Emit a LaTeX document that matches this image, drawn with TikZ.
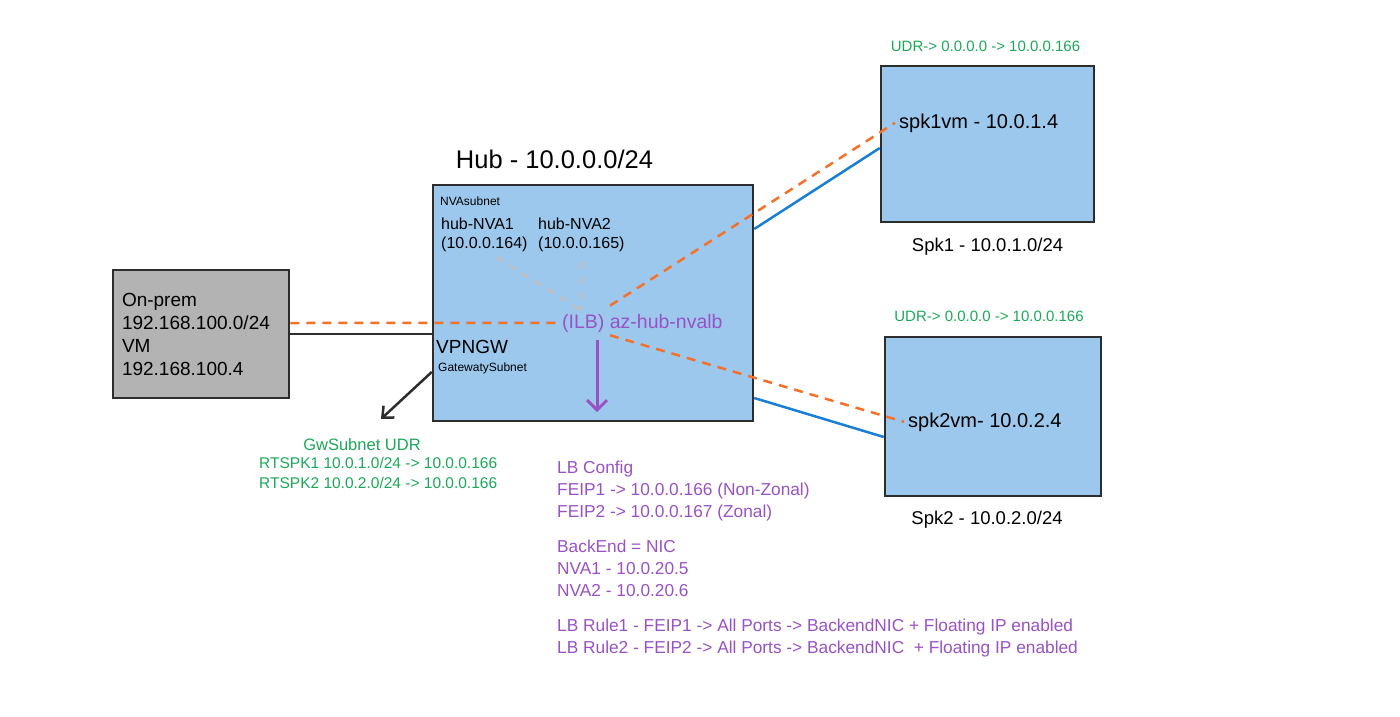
\documentclass[tikz,border=0pt]{standalone}
\usepackage{fontspec}
\setmainfont{Liberation Sans}
\usetikzlibrary{positioning,arrows.meta}

\definecolor{hubblue}{RGB}{157,200,238}
\definecolor{premgray}{RGB}{179,179,179}
\definecolor{edgegray}{RGB}{45,45,45}
\definecolor{floworange}{RGB}{245,112,40}
\definecolor{linkblue}{RGB}{24,126,214}
\definecolor{udrgreen}{RGB}{28,168,88}
\definecolor{lbpurple}{RGB}{152,82,196}
\definecolor{nvagray}{RGB}{192,192,192}

\newcommand{\fsz}[2]{\fontsize{#1}{#2}\selectfont}

\begin{document}
\begin{tikzpicture}[x=1pt,y=-1pt,
    net/.style={draw=edgegray,line width=2.5pt,fill=hubblue,inner sep=0pt},
    lbl/.style={inner sep=0pt,anchor=base west},
    flow/.style={draw=floworange,line width=2.5pt,dash pattern=on 9pt off 7pt},
    probe/.style={draw=nvagray,line width=2.5pt,dash pattern=on 8pt off 7pt},
    link/.style={draw=linkblue,line width=2.5pt},
    wire/.style={draw=edgegray,line width=2.5pt}]

    \useasboundingbox (0,0) rectangle (1400,717);

    % boxes
    \node[net,minimum width=320pt,minimum height=236pt] (hub) at (593,303) {};
    \node[net,fill=premgray,minimum width=176pt,minimum height=128pt,text width=158pt,align=left,inner xsep=9pt,font=\fsz{19}{23}] (onprem) at (201,334) {On-prem\\192.168.100.0/24\\VM\\192.168.100.4};
    \node[net,minimum width=213pt,minimum height=156pt] (spk1) at (987.5,144) {};
    \node[net,minimum width=216pt,minimum height=159pt] (spk2) at (993,416.5) {};

    \node[above right=15pt and 24pt of hub.north west,inner sep=0pt,font=\fsz{25.5}{30}] (hubtitle) {Hub - 10.0.0.0/24};

    % inside the hub
    \node[lbl,font=\fsz{12}{14}] (nvasub) at (440,205) {NVAsubnet};
    \node[inner sep=0pt,anchor=north west,align=left,font=\fsz{16}{19}] (nva1) at (441,218) {hub-NVA1\\(10.0.0.164)};
    \node[inner sep=0pt,anchor=north west,align=left,font=\fsz{16}{19}] (nva2) at (538,218) {hub-NVA2\\(10.0.0.165)};
    \node[lbl,inner sep=3pt,text=lbpurple,font=\fsz{19.5}{23}] (ilb) at (559,328) {(ILB) az-hub-nvalb};
    \node[lbl,font=\fsz{19}{23}] (vpngw) at (436,353) {VPNGW};
    \node[lbl,font=\fsz{12}{14}] (gwsub) at (438,371) {GatewatySubnet};

    % spokes
    \node[lbl,inner sep=4pt,font=\fsz{20}{24}] (spk1vm) at (895,128) {spk1vm - 10.0.1.4};
    \node[lbl,inner sep=4pt,font=\fsz{20}{24}] (spk2vm) at (904,427) {spk2vm- 10.0.2.4};
    \node[below=15pt of spk1,inner sep=0pt,font=\fsz{18.5}{22}] (spk1net) {Spk1 - 10.0.1.0/24};
    \node[below=14pt of spk2,xshift=-6pt,inner sep=0pt,font=\fsz{18.5}{22}] (spk2net) {Spk2 - 10.0.2.0/24};
    \node[above=13pt of spk1,xshift=-2pt,inner sep=0pt,text=udrgreen,font=\fsz{15}{17}] (spk1udr) {UDR-> 0.0.0.0 -> 10.0.0.166};
    \node[above=14pt of spk2,xshift=-4pt,inner sep=0pt,text=udrgreen,font=\fsz{15}{17}] (spk2udr) {UDR-> 0.0.0.0 -> 10.0.0.166};

    % gateway subnet routes
    \node[lbl,anchor=base,text=udrgreen,font=\fsz{16.5}{19}] (gwudr) at (362,450) {GwSubnet UDR};
    \node[inner sep=0pt,anchor=north west,align=left,text=udrgreen,font=\fsz{15.5}{20}] (rtspk) at (259,457) {RTSPK1 10.0.1.0/24 -> 10.0.0.166\\RTSPK2 10.0.2.0/24 -> 10.0.0.166};
    \coordinate (gwtip) at (381,419);

    % load balancer config
    \node[inner sep=0pt,anchor=north west,align=left,text=lbpurple,font=\fsz{17.3}{22}] (lbcfg) at (557,461) {LB Config\\FEIP1 -> 10.0.0.166 (Non-Zonal)\\FEIP2 -> 10.0.0.167 (Zonal)\\[13pt]BackEnd = NIC\\NVA1 - 10.0.20.5\\NVA2 - 10.0.20.6\\[13pt]LB Rule1 - FEIP1 -> All Ports -> BackendNIC + Floating IP enabled\\LB Rule2 - FEIP2 -> All Ports -> BackendNIC\ \ + Floating IP enabled};

    % connectors
    \draw[wire] (onprem.east) -- (onprem.east -| hub.west);
    \draw[wire,-{Straight Barb[length=9pt,width=16pt]}] ([yshift=-69pt]hub.west) -- (gwtip);
    \draw[link] ([yshift=74pt]hub.east) -- ([yshift=-4pt]spk1.west);
    \draw[link] ([yshift=-95pt]hub.east) -- ([yshift=-20.5pt]spk2.west);
    \draw[probe] ([xshift=12pt,yshift=-5pt]nva1.south) -- ([xshift=23pt]ilb.north west);
    \draw[probe] ([yshift=-9pt]nva2.south) -- ([xshift=22pt]ilb.north west);
    \draw[flow] ([yshift=11pt]onprem.east) -- (ilb.west);
    \draw[flow] ([xshift=51pt,yshift=5pt]ilb.north west) -- (spk1vm.west);
    \draw[flow] ([xshift=51pt]ilb.south west) -- (spk2vm.west);
    \draw[lbpurple,line width=3pt,-{Straight Barb[length=10pt,width=20pt]}] ([xshift=38pt,yshift=-5pt]ilb.south west) -- ++(0,72);
\end{tikzpicture}
\end{document}
